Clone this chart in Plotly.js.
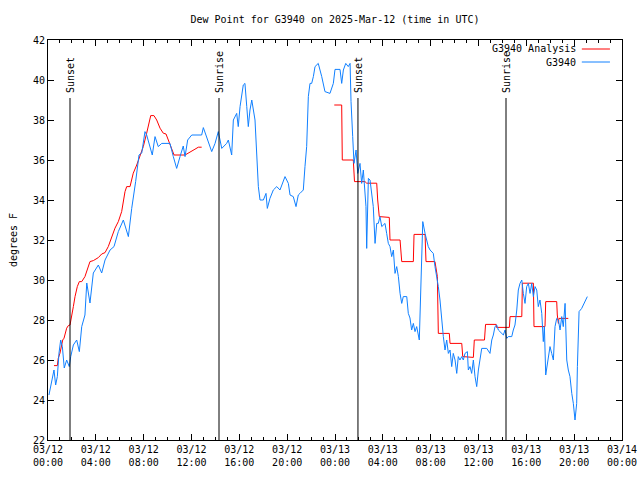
<!DOCTYPE html>
<html>
<head>
<meta charset="utf-8">
<script src="https://cdn.plot.ly/plotly-3.0.1.min.js"></script>
<style>html,body{margin:0;padding:0;background:#fff}#chart{width:640px;height:480px}</style>
</head>
<body>
<div id="chart"></div>
<script>
// Hours since 2025-03-12 00:00 UTC
const obsHours = [0.08,0.31,0.50,0.64,0.78,0.92,1.06,1.20,1.36,1.56,1.78,1.90,2.12,2.40,2.62,2.82,3.09,3.24,3.51,3.79,4.21,4.49,4.77,5.19,5.52,5.88,6.30,6.72,7.00,7.33,7.61,7.84,8.11,8.25,8.53,8.72,8.95,9.22,9.51,10.20,10.48,10.76,11.04,11.31,11.46,11.68,12.02,12.85,12.99,13.27,13.69,13.97,14.24,14.53,14.94,15.08,15.36,15.50,15.78,15.91,16.06,16.33,16.47,16.62,16.75,16.89,17.04,17.31,17.50,17.59,17.73,18.01,18.23,18.34,18.56,18.84,19.13,19.40,19.82,20.10,20.24,20.51,20.74,20.93,21.07,21.35,21.49,21.63,21.77,21.91,22.05,22.19,22.33,22.60,22.89,23.16,23.58,23.86,24.00,24.42,24.56,24.70,24.90,25.11,25.26,25.34,25.48,25.59,25.76,25.90,26.09,26.23,26.37,26.51,26.59,26.65,26.79,26.93,27.07,27.20,27.35,27.49,27.62,27.76,27.91,28.18,28.32,28.46,28.60,28.74,28.88,29.02,29.16,29.30,29.44,29.58,29.71,30.00,30.13,30.27,30.41,30.55,30.69,30.83,31.05,31.17,31.25,31.34,31.53,31.67,31.80,31.95,32.22,32.36,32.51,32.64,32.78,32.92,33.06,33.20,33.34,33.48,33.62,33.76,33.89,34.04,34.18,34.31,34.45,34.60,34.73,34.87,35.07,35.15,35.29,35.43,35.57,35.71,35.85,35.99,36.13,36.27,36.69,36.96,37.11,37.24,37.38,37.52,37.66,37.80,38.08,38.22,38.36,38.49,38.78,38.91,39.05,39.20,39.33,39.47,39.62,39.75,39.89,40.03,40.17,40.31,40.45,40.59,40.73,40.87,41.00,41.14,41.29,41.42,41.51,41.62,41.71,41.84,41.98,42.12,42.26,42.40,42.54,42.68,42.82,42.96,43.09,43.24,43.32,43.38,43.51,43.65,43.80,43.93,44.07,44.21,44.27,44.35,44.41,44.63,44.91,45.10];
const obsDew = [24.25,24.92,25.5,24.75,25.17,26.35,27.0,26.67,25.6,26.0,25.67,26.17,26.75,27.0,26.42,27.67,28.25,29.85,28.85,30.35,30.75,30.35,31.0,31.5,31.67,32.42,33.0,32.17,33.58,34.92,36.25,36.35,37.42,37.25,36.58,36.25,37.17,36.67,36.83,36.83,36.17,35.58,36.17,36.7,36.17,37.0,37.25,37.25,37.62,37.17,36.42,36.83,37.42,36.58,36.83,37.0,36.25,38.0,38.33,37.67,38.67,39.75,39.83,38.67,37.67,38.5,39.0,38.0,35.83,34.67,34.0,34.0,34.33,33.58,34.08,34.5,34.67,34.5,35.17,34.83,34.25,34.17,33.67,34.25,34.33,34.5,35.67,36.67,39.17,39.83,39.83,40.17,40.67,40.83,40.17,39.42,39.33,39.83,40.53,40.53,39.83,40.5,40.83,40.67,40.83,38.92,37.17,35.83,36.5,35.33,35.83,34.83,35.5,34.5,33.67,31.58,35.08,35.0,34.17,33.67,31.83,32.83,32.83,33.17,32.67,32.83,32.33,31.83,31.67,31.17,31.5,30.33,30.67,30.17,29.33,28.83,29.17,29.17,28.33,28.1,27.5,27.83,27.42,27.67,27.0,29.33,31.5,32.92,32.33,32.0,31.67,31.5,31.33,30.67,30.17,29.67,29.0,28.0,27.17,26.5,27.0,26.33,26.5,25.67,26.33,26.0,25.33,26.17,26.0,26.17,26.0,26.33,26.42,25.5,25.67,25.33,26.0,25.17,24.67,25.5,26.17,26.58,26.58,26.33,27.0,27.25,27.67,27.75,27.5,27.42,27.25,27.5,27.08,27.17,27.17,27.5,27.75,28.5,29.5,29.83,30.0,29.33,28.83,29.67,29.83,29.33,29.83,29.17,29.67,29.5,28.67,29.0,28.33,26.92,27.67,25.25,25.67,26.0,26.67,26.33,26.0,27.67,28.08,28.0,27.5,28.17,27.67,28.83,27.0,26.0,25.5,25.17,24.33,23.83,23.0,23.83,25.67,27.5,28.42,28.58,28.92,29.17];

const anaHours = [0.50,0.78,0.86,1.00,1.23,1.34,1.56,1.70,1.84,1.98,2.12,2.26,2.45,2.62,2.82,3.09,3.51,3.79,4.21,4.49,4.77,5.04,5.33,5.60,5.88,6.16,6.44,6.58,6.86,7.13,7.42,7.69,7.97,8.25,8.59,8.86,9.09,9.37,9.64,9.87,10.06,10.34,10.54,11.46,12.02,12.29,12.57,12.85,
  18.0,
  23.94,24.56,24.61,25.53,25.63,26.51,26.65,27.49,27.57,27.70,28.54,28.60,29.44,29.58,30.55,30.61,31.53,31.61,32.36,32.56,32.64,33.56,33.62,34.60,34.68,35.57,35.65,36.50,36.59,37.48,37.50,38.58,38.64,39.62,39.67,40.59,40.64,41.56,41.62,42.54,42.59,42.68,42.73,43.51];
const anaDew = [25.72,25.72,26.09,26.34,27.0,27.09,27.59,27.72,27.75,28.34,28.67,29.17,29.67,29.92,29.92,30.17,30.92,30.97,31.12,31.3,31.37,31.67,32.17,32.59,32.92,33.42,34.42,34.67,34.67,35.34,35.75,36.17,36.67,37.34,38.22,38.22,38.0,37.59,37.34,37.3,37.0,36.5,36.25,36.25,36.42,36.54,36.64,36.64,
  null,
  38.75,38.75,36.0,36.0,34.92,34.92,34.84,34.84,34.0,33.17,33.13,32.0,32.0,30.92,30.92,32.28,32.28,30.92,30.92,30.17,27.33,27.33,26.83,26.83,26.17,26.13,27.0,27.0,27.78,27.78,27.63,27.63,28.17,28.17,29.84,29.84,27.67,27.67,28.92,28.92,28.25,27.83,28.08,28.08];

const sunHours = [1.84, 14.30, 25.92, 38.30];
const sunLabels = ['Sunset', 'Sunrise', 'Sunset', 'Sunrise'];

const tickHours = [0,4,8,12,16,20,24,28,32,36,40,44,48];
const tickLabels = ['03/12<br>00:00','03/12<br>04:00','03/12<br>08:00','03/12<br>12:00','03/12<br>16:00','03/12<br>20:00','03/13<br>00:00','03/13<br>04:00','03/13<br>08:00','03/13<br>12:00','03/13<br>16:00','03/13<br>20:00','03/14<br>00:00'];

const seriesNames = ['G3940 Analysis', 'G3940'];
const seriesColors = ['#ff0000', '#1080ff'];

const FONT = {family: 'DejaVu Sans Mono, Liberation Mono, monospace', size: 10, color: '#000'};

const traces = [
  {x: anaHours, y: anaDew, type: 'scatter', mode: 'lines', name: seriesNames[0],
   line: {color: seriesColors[0], width: 1}, connectgaps: false, showlegend: false},
  {x: obsHours, y: obsDew, type: 'scatter', mode: 'lines', name: seriesNames[1],
   line: {color: seriesColors[1], width: 1}, showlegend: false}
];

const lineTop = 39.1;
const shapes = [];
const annotations = [];
sunHours.forEach((h, i) => {
  shapes.push({type: 'line', xref: 'x', yref: 'y', x0: h, x1: h, y0: 22, y1: lineTop,
               line: {color: '#000', width: 1}});
  annotations.push({xref: 'x', yref: 'y', x: h, y: lineTop, text: sunLabels[i], textangle: -90,
                    showarrow: false, xanchor: 'center', yanchor: 'bottom', yshift: 3, font: FONT});
});

// legend (text right-aligned, sample line on the right, like the original)
const legY = [0.9775, 0.945];
seriesNames.forEach((n, i) => {
  annotations.push({xref: 'paper', yref: 'paper', x: 0.923, y: legY[i], text: n, showarrow: false,
                    xanchor: 'right', yanchor: 'middle', font: FONT});
  shapes.push({type: 'line', xref: 'paper', yref: 'paper', x0: 0.930, x1: 0.979, y0: legY[i], y1: legY[i],
               line: {color: seriesColors[i], width: 1}});
});

const layout = {
  width: 640, height: 480,
  margin: {l: 48, r: 18, t: 40, b: 40},
  paper_bgcolor: '#fff', plot_bgcolor: '#fff',
  font: FONT,
  showlegend: false,
  title: {text: 'Dew Point for G3940 on 2025-Mar-12 (time in UTC)', font: FONT,
          x: 0.5, xref: 'paper', xanchor: 'center', y: 1 - 19/480, yref: 'container', yanchor: 'middle'},
  xaxis: {range: [0, 48], tickvals: tickHours, ticktext: tickLabels, ticks: 'inside', ticklen: 6,
          tickcolor: '#000', showline: true, linecolor: '#000', linewidth: 1, mirror: 'allticks',
          showgrid: false, zeroline: false, automargin: false, tickfont: FONT,
          minor: {dtick: 1, tick0: 0, ticks: 'inside', ticklen: 3, tickcolor: '#000', showgrid: false}},
  yaxis: {range: [22, 42], dtick: 2, tick0: 22, ticks: 'inside', ticklen: 6, tickcolor: '#000',
          showline: true, linecolor: '#000', linewidth: 1, mirror: 'allticks', showgrid: false,
          zeroline: false, automargin: false, tickfont: FONT,
          title: {text: 'degrees F', font: FONT, standoff: 13}},
  shapes: shapes,
  annotations: annotations
};

Plotly.newPlot('chart', traces, layout, {staticPlot: true, displayModeBar: false});
</script>
</body>
</html>
